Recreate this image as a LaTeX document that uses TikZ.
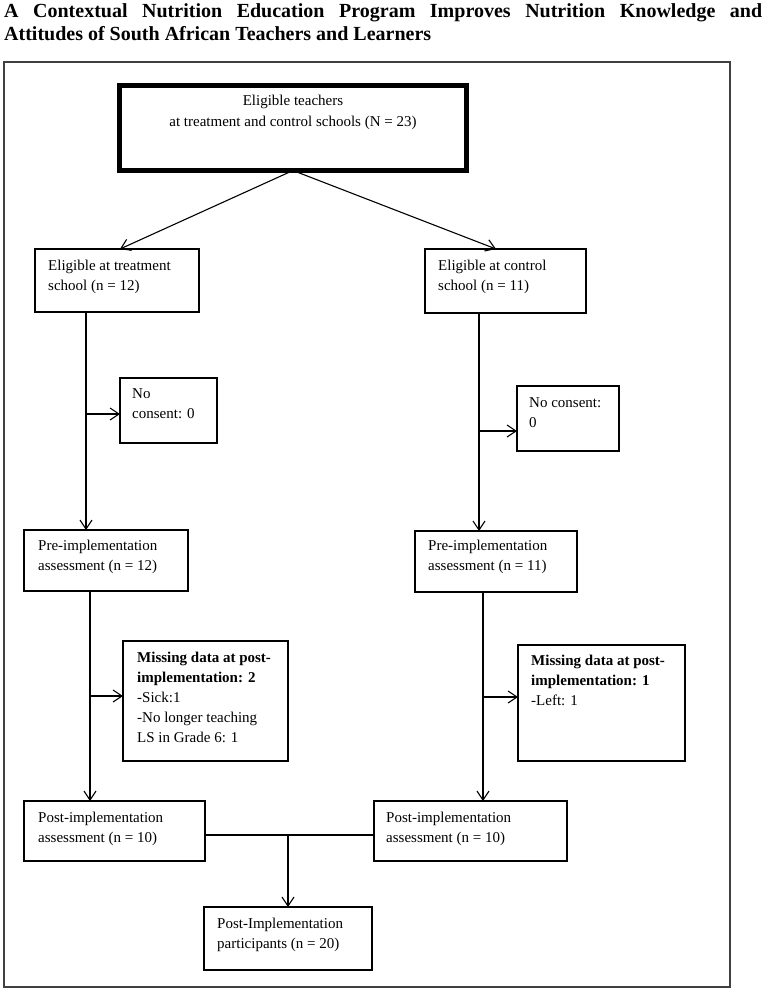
\documentclass[tikz,border=0pt]{standalone}
\usepackage{fontspec}
\setmainfont{Liberation Serif}
\usetikzlibrary{arrows.meta,calc}
\begin{document}
\begin{tikzpicture}[x=1pt,y=-1pt,
  box/.style={draw=black,line width=1.3pt,anchor=north west,inner sep=0pt,outer sep=0pt},
  txt/.style={anchor=north west,inner sep=0pt,align=left,font=\fontsize{15}{20}\selectfont},
  arr/.style={line width=1.1pt,-{Straight Barb[length=9pt,width=12pt,line width=1.1pt]}},
  conn/.style={line width=1.1pt}]
\useasboundingbox[fill=white] (0,0) rectangle (765,990);
% title
\node[anchor=north west,inner sep=0pt,text width=758pt,align=justify,
  font=\fontsize{20}{22.5}\selectfont\bfseries] (title) at (4,1.75)
  {\strut A Contextual Nutrition Education Program Improves Nutrition Knowledge and\linebreak
   Attitudes of South African Teachers and Learners};
% frame
\node[box,draw=black!75,line width=2pt,minimum width=726pt,minimum height=925pt] (frame) at (4,62) {};
% boxes
\node[box,line width=5pt,minimum width=347pt,minimum height=85pt] (top) at (119.5,85.5) {};
\node[box,minimum width=164pt,minimum height=63pt] (b1L) at (35,249) {};
\node[box,minimum width=161pt,minimum height=64pt] (b1R) at (425,249) {};
\node[box,minimum width=97pt,minimum height=65pt] (ncL) at (120,378) {};
\node[box,minimum width=102pt,minimum height=65pt] (ncR) at (517,386) {};
\node[box,minimum width=164pt,minimum height=61pt] (preL) at (24,530) {};
\node[box,minimum width=162pt,minimum height=61pt] (preR) at (415,531) {};
\node[box,minimum width=165pt,minimum height=120pt] (misL) at (123,641) {};
\node[box,minimum width=167pt,minimum height=116pt] (misR) at (518,645) {};
\node[box,minimum width=181pt,minimum height=60pt] (postL) at (24,801) {};
\node[box,minimum width=193pt,minimum height=60pt] (postR) at (374,801) {};
\node[box,minimum width=168pt,minimum height=63pt] (fin) at (204,907) {};
% texts
\node[txt,anchor=north,align=center,font=\fontsize{15}{21}\selectfont] (toptxt) at (293,91)
  {\strut Eligible teachers\\at treatment and control schools (N = 23)};
\node[txt] (b1Lt) at (48,256) {\strut Eligible at treatment\\school (n = 12)};
\node[txt] (b1Rt) at (438,256) {\strut Eligible at control\\school (n = 11)};
\node[txt] (ncLt) at (132,384) {\strut No\\consent: 0};
\node[txt] (ncRt) at (529,393) {\strut No consent:\\0};
\node[txt] (preLt) at (38,536) {\strut Pre-implementation\\assessment (n = 12)};
\node[txt] (preRt) at (428,536) {\strut Pre-implementation\\assessment (n = 11)};
\node[txt] (misLt) at (137,648) {\strut\textbf{Missing data at post-}\\\textbf{implementation: 2}\\-Sick:1\\-No longer teaching\\LS in Grade 6: 1};
\node[txt] (misRt) at (531,651) {\strut\textbf{Missing data at post-}\\\textbf{implementation: 1}\\-Left: 1};
\node[txt] (postLt) at (38,808) {\strut Post-implementation\\assessment (n = 10)};
\node[txt] (postRt) at (386,808) {\strut Post-implementation\\assessment (n = 10)};
\node[txt] (fint) at (217,914) {\strut Post-Implementation\\participants (n = 20)};
% connectors
\draw[arr] (top.south) -- ($(b1L.north west)+(85,0)$);
\draw[arr] (top.south) -- ($(b1R.north west)+(71,0)$);
\coordinate (vL1) at ($(b1L.south west)+(51,0)$);
\coordinate (vR1) at ($(b1R.south west)+(54,0)$);
\draw[arr] (vL1) -- (vL1 |- preL.north);
\draw[arr] (vR1) -- (vR1 |- preR.north);
\coordinate (aL1) at ($(ncL.north west)+(0,36)$);
\coordinate (aR1) at ($(ncR.south west)+(0,-20)$);
\draw[arr] (aL1 -| vL1) -- (aL1);
\draw[arr] (aR1 -| vR1) -- (aR1);
\coordinate (vL2) at ($(preL.south west)+(66,0)$);
\coordinate (vR2) at ($(preR.south west)+(68,0)$);
\draw[arr] (vL2) -- (vL2 |- postL.north);
\draw[arr] (vR2) -- (vR2 |- postR.north);
\coordinate (aL2) at ($(misL.north west)+(0,55)$);
\coordinate (aR2) at ($(misR.north west)+(0,52)$);
\draw[arr] (aL2 -| vL2) -- (aL2);
\draw[arr] (aR2 -| vR2) -- (aR2);
\coordinate (jL) at ($(postL.north east)+(0,34)$);
\draw[conn] (jL) -- (jL -| postR.west);
\draw[arr] (fin.north |- jL) -- (fin.north);
\end{tikzpicture}
\end{document}
